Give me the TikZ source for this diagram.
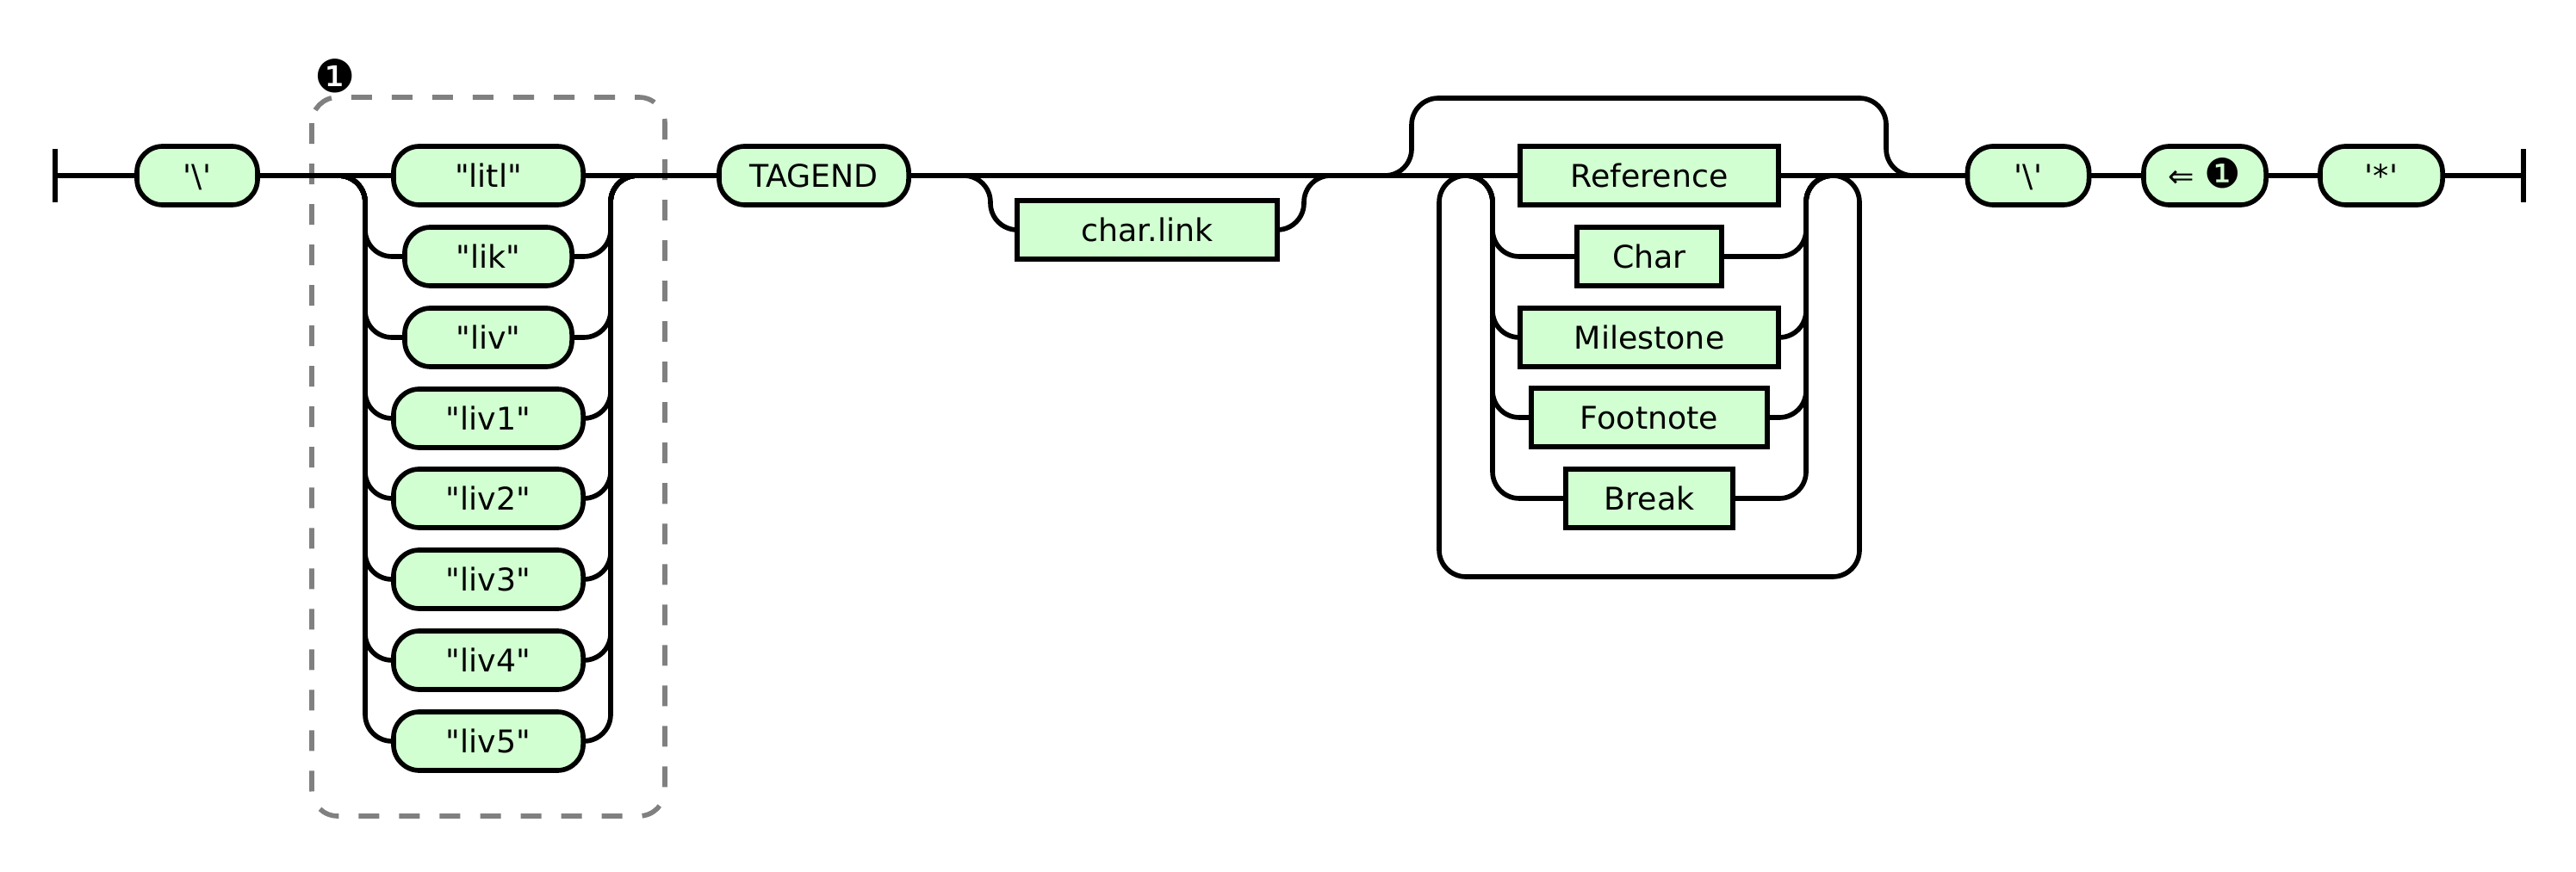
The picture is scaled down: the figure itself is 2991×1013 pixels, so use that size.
\documentclass[tikz,border=0pt]{standalone}
\usepackage{fontspec}
\newfontfamily\rrfont{DejaVu Sans}[Ligatures=TeXOff]
\definecolor{nfill}{RGB}{210,255,210}
\definecolor{boxgray}{RGB}{128,128,128}
\begin{document}
\begin{tikzpicture}[x=0.01cm,y=-0.01cm,line width=1.6pt,line cap=butt,
  term/.style={draw,fill=nfill,rounded corners=0.3cm,minimum height=0.68cm,inner sep=0pt,
    font=\rrfont\fontsize{10.33pt}{12pt}\selectfont,text height=0.265cm,text depth=0pt},
  nonterm/.style={term,rounded corners=0pt},
  rail/.style={rounded corners=0.31cm},
  grp/.style={draw=boxgray,dash pattern=on 0.24cm off 0.23cm,rounded corners=0.3cm},
  bar/.style={line width=1.7pt}]
\useasboundingbox (0,0) rectangle (2991,1013);

% group box and label
\draw[grp] (362,113) rectangle (772,948);
\node[inner sep=0pt,font=\rrfont\fontsize{15pt}{16pt}\selectfont] (lbl) at (389,88) {❶};

% nodes
\node[term,minimum width=1.40cm] (bsA) at (229,204) {'\textbackslash'};
\node[term,minimum width=2.20cm] (litl) at (567,204) {"litl"};
\node[term,minimum width=1.94cm] (lik) at (567,298) {"lik"};
\node[term,minimum width=1.94cm] (liv) at (567,392) {"liv"};
\node[term,minimum width=2.20cm] (livA) at (567,486) {"liv1"};
\node[term,minimum width=2.20cm] (livB) at (567,579) {"liv2"};
\node[term,minimum width=2.20cm] (livC) at (567,673) {"liv3"};
\node[term,minimum width=2.20cm] (livD) at (567,767) {"liv4"};
\node[term,minimum width=2.20cm] (livE) at (567,861) {"liv5"};
\node[term,minimum width=2.20cm] (tagend) at (945,204) {TAGEND};
\node[nonterm,minimum width=3.02cm] (charlink) at (1332,267) {char.link};
\node[nonterm,minimum width=3.00cm] (ref) at (1915,204) {Reference};
\node[nonterm,minimum width=1.68cm] (chr) at (1915,298) {Char};
\node[nonterm,minimum width=3.00cm] (mile) at (1915,392) {Milestone};
\node[nonterm,minimum width=2.74cm] (foot) at (1915,485) {Footnote};
\node[nonterm,minimum width=1.94cm] (brk) at (1915,579) {Break};
\node[term,minimum width=1.41cm] (bsB) at (2355,204) {'\textbackslash'};
\node[term,minimum width=1.42cm] (ret) at (2560,204) {⇐ {\fontsize{13.5pt}{14pt}\selectfont\raisebox{-0.3pt}{❶}}};
\node[term,minimum width=1.42cm] (star) at (2765,204) {'*'};

% coordinates
\coordinate (st) at (64,204);
\coordinate (en) at (2930,204);
\coordinate (aL) at (393,204);
\coordinate (aLv) at (424,204);
\coordinate (aRv) at (709,204);
\coordinate (aR) at (740,204);
\coordinate (oL) at (1118,204);
\coordinate (oLv) at (1150,204);
\coordinate (oRv) at (1514,204);
\coordinate (oR) at (1545,204);
\coordinate (bL) at (1608,204);
\coordinate (bR) at (2221,204);
\coordinate (cL) at (1702,204);
\coordinate (cLv) at (1733,204);
\coordinate (cRv) at (2097,204);
\coordinate (cR) at (2128,204);

% start / end bars
\draw[bar] (64,173) -- (64,235);
\draw[bar] (2930,173) -- (2930,235);

% main line
\draw (st) -- (bsA.west);
\draw (bsA.east) -- (litl.west);
\draw (litl.east) -- (tagend.west);
\draw (tagend.east) -- (ref.west);
\draw (ref.east) -- (bsB.west);
\draw (bsB.east) -- (ret.west);
\draw (ret.east) -- (star.west);
\draw (star.east) -- (en);

% first choice
\foreach \n in {lik,liv,livA,livB,livC,livD,livE}{
  \draw[rail] (aL) -- (aLv) |- (\n.west);
  \draw[rail] (\n.east) -| (aRv) -- (aR);
}

% optional char.link
\draw[rail] (oL) -- (oLv) |- (charlink.west);
\draw[rail] (charlink.east) -| (oRv) -- (oR);

% top bypass
\draw[rail] (bL) -- (1639,204) -- (1639,114) -- (2190,114) -- (2190,204) -- (bR);

% repeat loop
\draw[rail] (cRv) -- (2159,204) -- (2159,670) -- (1671,670) -- (1671,204) -- (cLv);

% second choice
\foreach \n in {chr,mile,foot,brk}{
  \draw[rail] (cL) -- (cLv) |- (\n.west);
  \draw[rail] (\n.east) -| (cRv) -- (cR);
}
\end{tikzpicture}
\end{document}
